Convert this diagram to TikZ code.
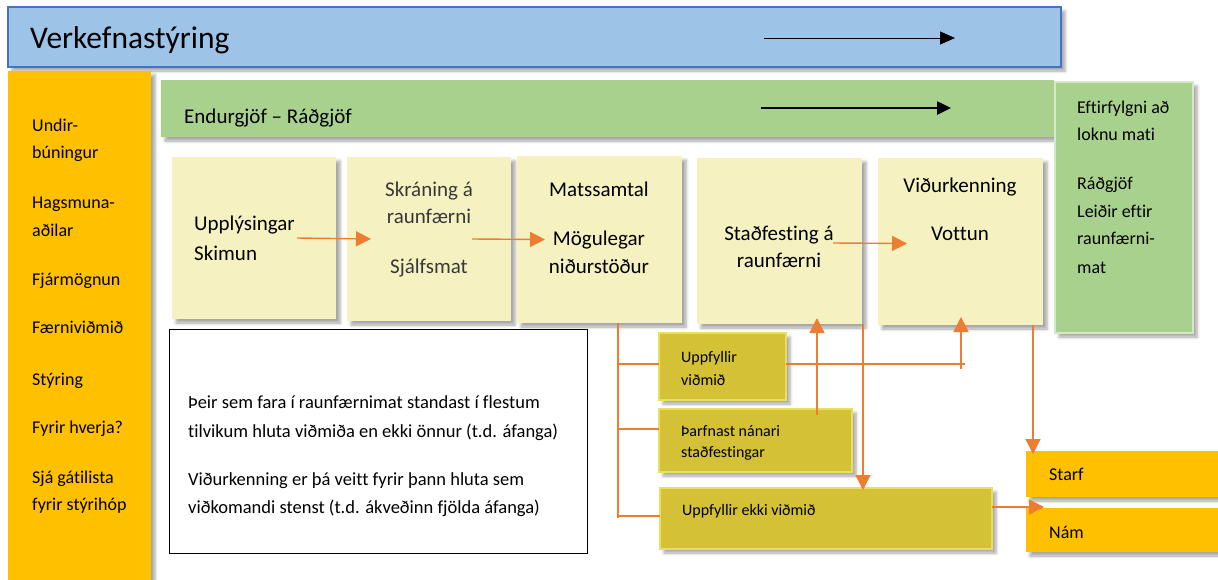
\documentclass[tikz,border=0pt]{standalone}
\usepackage{fontspec}
\setmainfont{Carlito}[Ligatures=NoCommon]
\usetikzlibrary{arrows.meta,shadows.blur}

\definecolor{planblue}{HTML}{9DC3E6}
\definecolor{planedge}{HTML}{4472C4}
\definecolor{sideorange}{HTML}{FFC000}
\definecolor{leafgreen}{HTML}{A9D18E}
\definecolor{leafedge}{HTML}{D5E8C8}
\definecolor{paleyellow}{HTML}{F5F1C1}
\definecolor{olivefill}{HTML}{D4C136}
\definecolor{oliveedge}{HTML}{E8E05C}
\definecolor{floworange}{HTML}{ED7D31}

\tikzset{
  panel/.style={anchor=north west, inner sep=0pt, outer sep=0pt,
    blur shadow={shadow xshift=4pt, shadow yshift=-4pt, shadow blur radius=3pt, shadow opacity=35}},
  stepbox/.style={panel, fill=paleyellow},
  resultbox/.style={panel, fill=olivefill, draw=oliveedge, line width=2.5pt},
  notebox/.style={anchor=north west, inner sep=0pt, outer sep=0pt, fill=white, draw=black, line width=1pt},
  txt/.style={inner sep=0pt, anchor=base},
  ltxt/.style={inner sep=0pt, anchor=base west},
  flow/.style={draw=floworange, line width=1.4pt, -{Triangle[length=15pt,width=15pt]}},
  link/.style={draw=floworange, line width=1.2pt},
  stepfont/.style={font=\fontsize{21}{25}\selectfont},
  sidefont/.style={font=\fontsize{18}{22}\selectfont},
  notefont/.style={font=\fontsize{18.5}{22}\selectfont},
  resfont/.style={font=\fontsize{16}{19}\selectfont},
}

\begin{document}
\begin{tikzpicture}[x=1pt, y=-1pt]
  \useasboundingbox (0,0) rectangle (1218,579);

  % Bars and side columns
  \node[panel, fill=planblue, draw=planedge, line width=2pt, minimum width=1053pt, minimum height=60pt] (plan) at (8,7) {};
  \node[panel, fill=sideorange, minimum width=143pt, minimum height=520pt] (side) at (8,71) {};
  \node[panel, fill=leafgreen, minimum width=893pt, minimum height=57pt] (feed) at (161,80) {};
  \node[panel, fill=leafgreen, draw=leafedge, line width=2.5pt, minimum width=138pt, minimum height=251pt] (after) at (1055,82) {};

  \node[ltxt, font=\fontsize{31.5}{36}\selectfont] (plantxt) at (30,48) {Verkefnastýring};
  \node[ltxt, font=\fontsize{21}{25}\selectfont] (feedtxt) at (184,123) {Endurgjöf – Ráðgjöf};
  \coordinate (pa) at (764,38);
  \coordinate (pb) at (955,38);
  \draw[line width=1pt, -{Triangle[length=15pt,width=13pt]}] (pa) -- (pb);
  \coordinate (fa) at (761,108);
  \coordinate (fb) at (951,108);
  \draw[line width=2.5pt, -{Triangle[length=14pt,width=13pt]}] (fa) -- (fb);

  % Left column
  \foreach \y/\t [count=\i] in {131/Undir-, 158/búningur, 208/Hagsmuna-, 236/aðilar, 285/Fjármögnun,
      333/Færniviðmið, 385/Stýring, 433/Fyrir hverja?, 483/Sjá gátilista, 510/fyrir stýrihóp}
    \node[ltxt, sidefont] (side\i) at (32,\y) {\t};

  % Right column
  \foreach \y/\t [count=\i] in {113/Eftirfylgni að, 140/loknu mati, 189/Ráðgjöf, 217/Leiðir eftir,
      244/raunfærni-, 273/mat}
    \node[ltxt, sidefont] (after\i) at (1077,\y) {\t};

  % Process steps
  \node[stepbox, minimum width=164pt, minimum height=162pt] (upp) at (172,157) {};
  \node[stepbox, minimum width=164pt, minimum height=164pt] (skra) at (347,157) {};
  \node[stepbox, minimum width=165pt, minimum height=167pt] (mats) at (517,156) {};
  \node[stepbox, minimum width=165pt, minimum height=166pt] (stad) at (697,158) {};
  \node[stepbox, minimum width=165pt, minimum height=167pt] (vid) at (878,158) {};

  \node[ltxt, stepfont] (upp1) at (194,230) {Upplýsingar};
  \node[ltxt, stepfont] (upp2) at (194,260) {Skimun};
  \node[txt, stepfont, text=black!78] (skra1) at (429,196) {Skráning á};
  \node[txt, stepfont, text=black!78] (skra2) at (429,223) {raunfærni};
  \node[txt, stepfont, text=black!78] (skra3) at (429,273) {Sjálfsmat};
  \node[txt, stepfont] (mats1) at (599,196) {Matssamtal};
  \node[txt, stepfont] (mats2) at (599,245) {Mögulegar};
  \node[txt, stepfont] (mats3) at (599,273) {niðurstöður};
  \node[txt, stepfont] (stad1) at (779,240) {Staðfesting á};
  \node[txt, stepfont] (stad2) at (779,267) {raunfærni};
  \node[txt, stepfont] (vid1) at (960,192) {Viðurkenning};
  \node[txt, stepfont] (vid2) at (960,240) {Vottun};

  \draw[flow] ([xshift=-39pt]upp.east) -- ([xshift=24pt]skra.west);
  \draw[flow] ([xshift=-39pt]skra.east) -- ([xshift=28pt]mats.west);
  \draw[flow] ([xshift=-29pt,yshift=-2pt]stad.east) -- ([xshift=29pt,yshift=-2pt]vid.west);

  % Note
  \node[notebox, minimum width=418pt, minimum height=224pt] (note) at (169,329) {};
  \node[ltxt, notefont] (note1) at (188,408) {Þeir sem fara í raunfærnimat standast í flestum};
  \node[ltxt, notefont] (note2) at (188,437) {tilvikum hluta viðmiða en ekki önnur (t.d. áfanga)};
  \node[ltxt, notefont] (note3) at (188,485) {Viðurkenning er þá veitt fyrir þann hluta sem};
  \node[ltxt, notefont] (note4) at (188,513) {viðkomandi stenst (t.d. ákveðinn fjölda áfanga)};

  % Outcomes
  \node[resultbox, minimum width=127pt, minimum height=67pt] (uppf) at (659,333) {};
  \node[resultbox, minimum width=193pt, minimum height=63pt] (tharf) at (659,409) {};
  \node[resultbox, minimum width=332pt, minimum height=61pt] (ekki) at (660,488) {};
  \node[ltxt, resfont] (uppf1) at (681,362) {Uppfyllir};
  \node[ltxt, resfont] (uppf2) at (681,385) {viðmið};
  \node[ltxt, resfont] (tharf1) at (681,436) {Þarfnast nánari};
  \node[ltxt, resfont] (tharf2) at (681,457) {staðfestingar};
  \node[ltxt, resfont] (ekki1) at (682,515) {Uppfyllir ekki viðmið};

  \node[panel, fill=sideorange, minimum width=200pt, minimum height=46pt] (starf) at (1026,451) {};
  \node[panel, fill=sideorange, minimum width=200pt, minimum height=44pt] (nam) at (1026,508) {};
  \node[ltxt, sidefont] (starftxt) at (1049,480) {Starf};
  \node[ltxt, sidefont] (namtxt) at (1049,538) {Nám};

  % Connectors
  \coordinate (trunk) at (618,323);
  \coordinate (trunkend) at (618,518);
  \draw[link] (trunk) -- (trunkend);
  \coordinate (b1) at (618,364);
  \coordinate (b2) at (618,429);
  \coordinate (b3) at (618,516);
  \draw[link] (b1) -- (b1 -| uppf.west);
  \draw[link] (b2) -- (b2 -| tharf.west);
  \draw[link] (b3) -- (b3 -| ekki.west);

  \coordinate (c1) at (965,364);
  \draw[link] (uppf.east |- c1) -- (c1);
  \coordinate (c2) at (961,369);
  \draw[flow, shorten >=-8pt] (c2) -- (c2 |- vid.south);
  \coordinate (c3) at (817,415);
  \draw[flow, shorten >=-6pt] (c3) -- (c3 |- stad.south);
  \coordinate (c4) at (863,324);
  \draw[flow, shorten >=-2pt] (c4) -- (c4 |- ekki.north);
  \coordinate (c5) at (1033,325);
  \draw[flow, shorten >=-3pt] (c5) -- (c5 |- starf.north);
  \coordinate (c6) at (1044,507);
  \draw[flow] (ekki.east |- c6) -- (c6);
\end{tikzpicture}
\end{document}
